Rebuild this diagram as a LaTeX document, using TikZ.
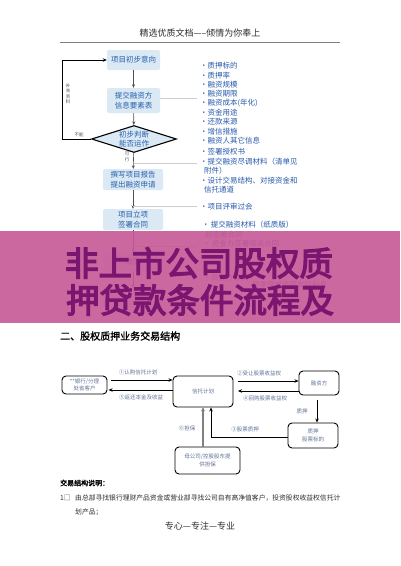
\documentclass[tikz,border=0pt]{standalone}
\usepackage{fontspec}
\setmainfont{Noto Sans CJK SC}
\newfontfamily\bannerfont[FakeBold=4]{Noto Sans CJK SC}
\newfontfamily\boldcjk[FakeBold=1.5]{Noto Sans CJK SC}
\usetikzlibrary{shapes.geometric,arrows.meta}
\definecolor{boxfill}{RGB}{219,233,245}
\definecolor{boxtext}{RGB}{38,96,170}
\definecolor{listtext}{RGB}{40,90,170}
\definecolor{bannerc}{RGB}{198,88,150}
\definecolor{bannertext}{RGB}{122,22,112}
\definecolor{smalltext}{RGB}{95,115,150}
\definecolor{arrowgray}{RGB}{80,80,80}
\definecolor{tiegray}{RGB}{205,205,205}
\definecolor{doctext}{RGB}{45,45,45}
\begin{document}
\begin{tikzpicture}[x=1pt,y=-1pt,
  flowbox/.style={fill=boxfill, rounded corners=2pt, text=boxtext, font=\fontsize{7.5}{10.5}\selectfont, align=center, inner sep=0pt},
  flowarrow/.style={draw=arrowgray, line width=0.6pt, -{Stealth[length=3.5pt,width=3pt]}},
  loopline/.style={draw=black, line width=0.9pt, -{Stealth[length=4pt,width=3.5pt]}},
  listitem/.style={anchor=west, text=listtext, font=\fontsize{7.5}{9}\selectfont, inner sep=0pt},
  tie/.style={draw=tiegray, line width=0.5pt},
  tiny/.style={text=arrowgray, font=\fontsize{4.5}{5.5}\selectfont, inner sep=0pt, align=center},
  sbox/.style={draw=black, line width=0.9pt, rounded corners=4pt, fill=white, text=smalltext, font=\fontsize{5.5}{7.5}\selectfont, align=center, inner sep=0pt},
  sarrow/.style={draw=black, line width=0.8pt, -{Stealth[length=4pt,width=3.5pt]}},
  slabel/.style={text=smalltext, font=\fontsize{5.5}{7}\selectfont, inner sep=0pt},
  doc/.style={text=doctext, inner sep=0pt}
]
\useasboundingbox (0,0) rectangle (400,566);
\fill[white] (0,0) rectangle (400,566);

% header
\node[doc, font=\fontsize{9}{11}\selectfont] (hdr) at (200,33) {精选优质文档-----倾情为你奉上};
\coordinate (hl) at (60,42);
\coordinate (hr) at (340,42);
\draw[draw=gray, line width=0.8pt] (hl) -- (hr);

% flow chart
\node[flowbox, minimum width=53pt, minimum height=20pt] (b1) at (133.5,60) {项目初步意向};
\node[flowbox, minimum width=53pt, minimum height=25pt] (b2) at (133.5,100.5) {提交融资方\\信息要素表};
\node[diamond, aspect=3.1, draw=black, line width=1.1pt, fill=boxfill, text=boxtext,
      font=\fontsize{7.5}{9.5}\selectfont, align=center, inner sep=0pt,
      minimum width=85pt, minimum height=27pt] (dia) at (134,139) {初步判断\\能否运作};
\node[flowbox, minimum width=60pt, minimum height=21pt] (b3) at (133,179.5) {撰写项目报告\\提出融资申请};
\node[flowbox, minimum width=60pt, minimum height=21pt] (b4) at (133,219.5) {项目立项\\签署合同};
\node[flowbox, minimum width=60pt, minimum height=20pt] (b5) at (133,262) {放款};
\node[flowbox, minimum width=60pt, minimum height=20pt] (b6) at (133,298) {};

\draw[flowarrow] (b1) -- (b2);
\draw[flowarrow] (b2) -- (dia);
\draw[flowarrow] (dia) -- (b3);
\draw[flowarrow] (b3) -- (b4);
\draw[flowarrow] (b4) -- (b5);
\draw[flowarrow] (b5) -- (b6);

% loop back
\draw[loopline] (dia.west) -| ([xshift=-44pt]b1.west) -- (b1.west);
\node[tiny] (lv) at (68,94) {补\\充\\资\\料};
\node[tiny] (lh) at (79,135) {不能};
\node[tiny] (ly) at (127,157) {可\\行};

% tie lines to the list
\coordinate (t1) at (197,98);
\coordinate (t2) at (197,163);
\coordinate (t3) at (197,206);
\coordinate (t4) at (197,246);
\draw[tie] (b2.east |- t1) -- (t1);
\draw[tie] (dia.south |- t2) -- (t2);
\draw[tie] (b3.south |- t3) -- (t3);
\draw[tie] (b4.south |- t4) -- (t4);

% list
\node[listitem] (l1) at (200,66) {·质押标的};
\node[listitem] (l2) at (200,75.5) {·质押率};
\node[listitem] (l3) at (200,85) {·融资规模};
\node[listitem] (l4) at (200,94) {·融资期限};
\node[listitem] (l5) at (200,103.5) {·融资成本(年化)};
\node[listitem] (l6) at (200,113) {·资金用途};
\node[listitem] (l7) at (200,122) {·还款来源};
\node[listitem] (l8) at (200,131.5) {·增信措施};
\node[listitem] (l9) at (200,141) {·融资人其它信息};
\node[listitem] (l10) at (200,152) {·签署授权书};
\node[listitem] (l11) at (200,162) {·提交融资尽调材料（清单见};
\node[listitem] (l11b) at (204,171) {附件）};
\node[listitem] (l12) at (200,180.5) {·设计交易结构、对接资金和};
\node[listitem] (l12b) at (204,190) {信托通道};
\node[listitem] (l13) at (200,207) {·项目评审过会};
\node[listitem] (l14) at (202,225) {·\,提交融资材料（纸质版）};
\node[listitem, text=smalltext] (l14b) at (205,235) {和签署合同};
\node[listitem] (l15) at (203,244) {·\,资金方签署相关合同};
\node[listitem, text=smalltext] (l16) at (203,278) {·资金方打款};
\node[listitem, text=smalltext] (l17) at (252,285) {按季度或年度支付利息};

% banner
\fill[bannerc, opacity=0.9] (0,231) rectangle (400,323);
\node[text=bannertext, inner sep=0pt, font=\bannerfont\fontsize{33.5}{36}\selectfont] (ban1) at (199,263) {非上市公司股权质};
\node[text=bannertext, inner sep=0pt, font=\bannerfont\fontsize{33.5}{36}\selectfont] (ban2) at (200,300) {押贷款条件流程及};

% section heading
\node[doc, anchor=west, text=black, font=\boldcjk\fontsize{10}{12}\selectfont] (sec) at (60,336) {二、股权质押业务交易结构};

% structure diagram
\node[sbox, minimum width=45pt, minimum height=18pt] (A) at (84.5,385) {**银行/分理\\处省客户};
\node[sbox, minimum width=60pt, minimum height=31pt] (B) at (203,391.5) {信托计划};
\node[sbox, minimum width=40pt, minimum height=24pt] (C) at (319,383) {融资方};
\node[sbox, minimum width=50pt, minimum height=25pt] (D) at (313,435.5) {质押\\股票标的};
\node[sbox, minimum width=65pt, minimum height=27pt] (E) at (207.5,460.5) {母公司/控股股东提\\供担保};

\coordinate (ab) at (111,380);
\coordinate (ba) at (108.5,390);
\coordinate (bc) at (238,381);
\coordinate (cb) at (238,391);
\coordinate (cd) at (317,400);
\coordinate (db) at (211,437);
\coordinate (eb) at (203,447);

\draw[sarrow] (ab) -- (ab -| B.west);
\draw[sarrow] (B.west |- ba) -- (ba);
\draw[sarrow] (bc) -- (bc -| C.west);
\draw[sarrow] (C.west |- cb) -- (cb);
\draw[sarrow] (cd) -- (cd |- D.north);
\draw[sarrow] (D.west |- db) -- (db) -- (db |- B.south);
\draw[draw=gray, line width=1.6pt, -{Stealth[length=4pt,width=4pt]}] (eb) -- (eb |- B.south);

\node[slabel] (la) at (138,372) {①认购信托计划};
\node[slabel] (lb) at (141,397) {⑤返还本金及收益};
\node[slabel] (lc) at (259,373) {②受让股票收益权};
\node[slabel] (ld) at (265,398) {④回购股票收益权};
\node[slabel] (le) at (302,411) {质押};
\node[slabel] (lf) at (245,429) {③股票质押};
\node[slabel] (lg) at (187,428) {⑥担保};

% notes
\node[doc, anchor=west, text=black, font=\boldcjk\fontsize{7}{9}\selectfont] (n0) at (60,483) {交易结构说明：};
\node[doc, anchor=west, font=\fontsize{6.8}{9}\selectfont] (n1a) at (60,498) {1□};
\node[doc, anchor=west, font=\fontsize{6.8}{9}\selectfont] (n1) at (75,498) {由总部寻找银行理财产品资金或营业部寻找公司自有高净值客户，投资股权收益权信托计};
\node[doc, anchor=west, font=\fontsize{6.8}{9}\selectfont] (n2) at (75,512) {划产品；};

% footer
\node[doc, font=\fontsize{9}{11}\selectfont] (ftr) at (200,526) {专心---专注---专业};
\end{tikzpicture}
\end{document}
